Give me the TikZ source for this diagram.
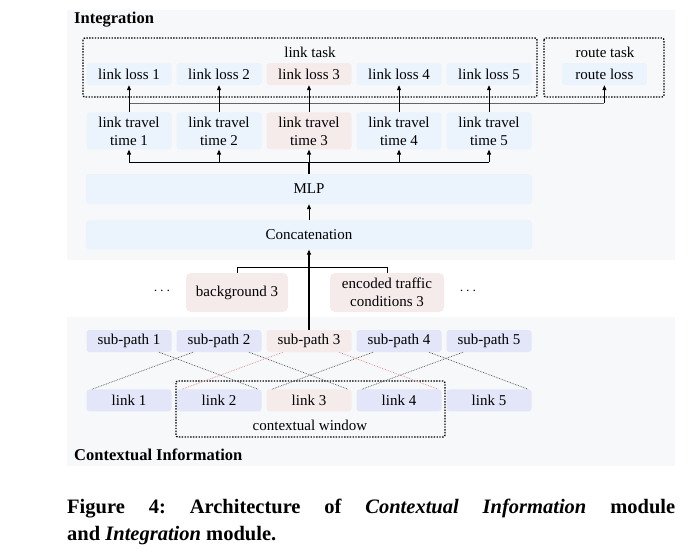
\documentclass[tikz,border=0pt]{standalone}
\usepackage{fontspec}
\setmainfont{Liberation Serif}
\usetikzlibrary{positioning,arrows.meta}

\definecolor{boxblue}{HTML}{EBF3FC}
\definecolor{boxpink}{HTML}{F6EBEB}
\definecolor{boxlav}{HTML}{E3E6F8}
\definecolor{panel}{HTML}{F7F8FA}
\definecolor{redline}{HTML}{E08C8C}

\tikzset{
  cell/.style={rounded corners=3pt, minimum width=85pt, minimum height=22pt,
    inner sep=0pt, align=center, font=\fontsize{15}{18}\selectfont},
  bluecell/.style={cell, fill=boxblue},
  pinkcell/.style={cell, fill=boxpink},
  lavcell/.style={cell, fill=boxlav},
  taskbox/.style={draw, rounded corners=2pt, line width=1.4pt, dash pattern=on 1.4pt off 1.4pt},
  up/.style={-{Triangle[length=5pt,width=4pt]}, line width=0.9pt},
  cross/.style={densely dotted, line width=0.7pt, black!70},
  modlabel/.style={anchor=west, inner sep=0pt, font=\fontsize{16.5}{18}\selectfont\bfseries},
  plain/.style={inner sep=0pt, font=\fontsize{15}{18}\selectfont},
}

\begin{document}
\begin{tikzpicture}[x=1pt,y=-1pt]
  \useasboundingbox (0,0) rectangle (693,554);

  % Panels
  \fill[panel] (67,10) rectangle (675,260);
  \fill[panel] (67,317) rectangle (675,466);
  \node[modlabel] (integ) at (74,20) {Integration};
  \node[modlabel] (context) at (74,455) {Contextual Information};

  % Integration module
  \foreach \i/\s in {1/bluecell,2/bluecell,3/pinkcell,4/bluecell,5/bluecell} {
    \node[\s] (loss\i) at ({39+90*\i},74) {link loss \i};
    \node[\s, minimum height=37pt, below=27pt of loss\i] (time\i) {link travel\\time \i};
  }
  \node[bluecell, right=30pt of loss5] (route) {route loss};
  \node[plain] (linktask) at (310,52) {link task};
  \node[plain] (routetask) at (605,52) {route task};
  \draw[taskbox] (83,38) rectangle (537,97);
  \draw[taskbox] (544,38) rectangle (664,97);

  \node[bluecell, minimum width=446pt, minimum height=30pt] (mlp) at (309,189) {MLP};
  \node[bluecell, minimum width=446pt, minimum height=29pt, below=16pt of mlp] (concat) {Concatenation};

  % Contextual Information module
  \node[pinkcell, minimum width=102pt, minimum height=39pt, rounded corners=5pt] (bg) at (237,292.5) {background 3};
  \node[pinkcell, minimum width=114pt, minimum height=39pt, rounded corners=5pt] (enc) at (387,292.5) {encoded traffic\\conditions 3};
  \node[plain] (ldots) at (162,291) {$\cdots$};
  \node[plain] (rdots) at (468,291) {$\cdots$};

  \foreach \i/\s in {1/lavcell,2/lavcell,3/pinkcell,4/lavcell,5/lavcell} {
    \node[\s] (sub\i) at ({39+90*\i},341) {sub-path \i};
    \node[\s, below=37pt of sub\i] (link\i) {link \i};
  }
  \node[plain] (cwlabel) at (310,425) {contextual window};
  \draw[taskbox] (176,381) rectangle (445,437);

  % Connect the nodes
  \coordinate (topbus) at (0,103);
  \coordinate (midbus) at (0,162);
  \coordinate (joinbus) at (0,267);
  \draw[black!60, line width=0.9pt] (loss1.south |- topbus) -- (route.south |- topbus);
  \foreach \i in {1,...,5} {
    \draw[up] (time\i.north) -- (loss\i.south);
    \draw[up] (time\i.south |- midbus) -- (time\i.south);
  }
  \draw[up] (route.south |- topbus) -- (route.south);
  \draw[line width=0.9pt] (time1.south |- midbus) -- (time5.south |- midbus);
  \draw[line width=1.6pt] (mlp.north) -- (mlp.north |- midbus);
  \draw[up] (concat.north) -- (mlp.south);
  \draw[up, line width=1.2pt] (sub3.north) -- (concat.south);
  \draw[line width=0.9pt] (bg.north) |- (joinbus -| enc.north) -- (enc.north);

  \foreach \i/\j in {2/1,4/3,5/4}
    \draw[cross] ([xshift=-26pt]sub\i.south) -- ([xshift=-37pt]link\j.north);
  \foreach \i/\j in {1/2,2/3,4/5}
    \draw[cross] ([xshift=30pt]sub\i.south) -- ([xshift=39pt]link\j.north);
  \draw[cross, redline] ([xshift=-26pt]sub3.south) -- ([xshift=-37pt]link2.north);
  \draw[cross, redline] ([xshift=30pt]sub3.south) -- ([xshift=39pt]link4.north);

  % Caption
  \node[anchor=north west, text width=608pt, align=justify, inner sep=0pt,
    font=\fontsize{20.5}{27}\selectfont\bfseries\frenchspacing] (caption) at (67,499)
    {Figure 4: Architecture of \textit{Contextual Information} module\linebreak
     and \textit{Integration} module.};
\end{tikzpicture}
\end{document}
